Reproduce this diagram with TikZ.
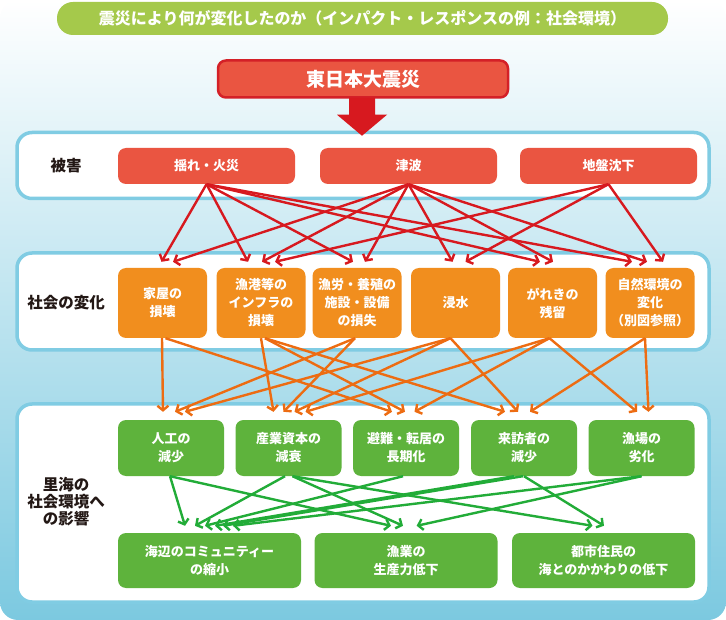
\documentclass[tikz,border=0pt]{standalone}
\usepackage{fontspec}
\setmainfont{Noto Sans CJK JP}
\usetikzlibrary{arrows.meta,calc}
\definecolor{titlegreen}{HTML}{A5C94B}
\definecolor{boxred}{HTML}{EA5541}
\definecolor{mainborder}{HTML}{D42027}
\definecolor{linered}{HTML}{D7191F}
\definecolor{boxorange}{HTML}{F18E1E}
\definecolor{lineorange}{HTML}{ED6C12}
\definecolor{boxgreen}{HTML}{5EB33C}
\definecolor{linegreen}{HTML}{22AC38}
\definecolor{panelblue}{HTML}{80CCE3}
\definecolor{bgblue}{HTML}{7CC9E0}
\definecolor{labeltext}{HTML}{231815}
\tikzset{
  box/.style={rounded corners=8pt, align=center, text=white, inner sep=0pt,
    font=\bfseries\fontsize{13}{18}\selectfont},
  redbox/.style={box, fill=boxred, minimum width=177pt, minimum height=36pt},
  orangebox/.style={box, fill=boxorange, minimum width=89pt, minimum height=70pt},
  greenbox/.style={box, fill=boxgreen, minimum width=106pt, minimum height=56pt},
  greenwide/.style={box, fill=boxgreen, minimum width=183pt, minimum height=55pt},
  panel/.style={draw=panelblue, line width=3.5pt, fill=white, rounded corners=15pt,
    minimum width=692pt, inner sep=0pt},
  paneltext/.style={text=labeltext, align=center, font=\bfseries\fontsize{15.5}{17}\selectfont},
  redarr/.style={draw=linered, line width=2.4pt, -{Straight Barb[length=4.5pt,width=11pt]}},
  orangearr/.style={draw=lineorange, line width=2.4pt, -{Straight Barb[length=4.5pt,width=11pt]}},
  greenarr/.style={draw=linegreen, line width=2.4pt, -{Straight Barb[length=4.5pt,width=11pt]}},
}
\begin{document}
\begin{tikzpicture}[x=1pt,y=-1pt]
\useasboundingbox (0,0) rectangle (726,620);
% background
\shade[top color=white, bottom color=bgblue, rounded corners=18pt] (0,0) rectangle (726,620);

% title pill
\node[fill=titlegreen, rounded corners=16pt, minimum width=611pt, minimum height=33pt,
  inner sep=0pt, text=white, font=\bfseries\fontsize{16}{18}\selectfont] (title) at (362.5,18.5)
  {震災により何が変化したのか（インパクト・レスポンスの例：社会環境）};

% main box
\node[fill=boxred, draw=mainborder, line width=2.5pt, rounded corners=8pt,
  minimum width=290pt, minimum height=37pt, inner sep=0pt, text=white,
  font=\bfseries\fontsize{19}{21}\selectfont] (main) at (363,79) {東日本大震災};

% panels
\node[panel, minimum height=66pt] (p1) at (363,165.5) {};
\node[panel, minimum height=97pt] (p2) at (363,301.5) {};
\node[panel, minimum height=198pt] (p3) at (363,503) {};

% block arrow
\coordinate (ba) at ($(main.south)+(-1,0)$);
\fill[linered] ($(ba)+(-13,-1)$) -- ($(ba)+(13,-1)$) -- ($(ba)+(13,16)$) -- ($(ba)+(25,16)$)
  -- ($(ba)+(0,37)$) -- ($(ba)+(-25,16)$) -- ($(ba)+(-13,16)$) -- cycle;

% panel labels
\node[paneltext] (l1) at (66,166) {被害};
\node[paneltext] (l2) at (66,303) {社会の変化};
\node[paneltext] (l3) at (66,502) {里海の\\社会環境へ\\の影響};

% damage boxes
\node[redbox] (d1) at (206.5,166) {揺れ・火災};
\node[redbox] (d2) at (408.5,166) {津波};
\node[redbox] (d3) at (608.5,166) {地盤沈下};

% social change boxes
\node[orangebox] (o1) at (162.5,303) {家屋の\\損壊};
\node[orangebox] (o2) at (261,303) {漁港等の\\インフラの\\損壊};
\node[orangebox] (o3) at (357,303) {漁労・養殖の\\施設・設備\\の損失};
\node[orangebox] (o4) at (455.5,303) {浸水};
\node[orangebox] (o5) at (552.5,303) {がれきの\\残留};
\node[orangebox] (o6) at (650,303) {自然環境の\\変化\\（別図参照）};

% impact boxes
\node[greenbox] (gA) at (171,448) {人工の\\減少};
\node[greenbox] (gB) at (288.5,448) {産業資本の\\減衰};
\node[greenbox] (gC) at (406,448) {避難・転居の\\長期化};
\node[greenbox] (gD) at (524,448) {来訪者の\\減少};
\node[greenbox] (gE) at (641.5,448) {漁場の\\劣化};

\node[greenwide] (b1) at (209.5,560.5) {海辺のコミュニティー\\の縮小};
\node[greenwide] (b2) at (406,560.5) {漁業の\\生産力低下};
\node[greenwide] (b3) at (603.5,560.5) {都市住民の\\海とのかかわりの低下};

% red arrows
\draw[redarr] (d1.south) -- ($(o1.north)+(-1,-6)$);
\draw[redarr] (d2.south) -- ($(o1.north)+(10.5,-6)$);
\draw[redarr] (d1.south) -- ($(o2.north)+(-13,-6)$);
\draw[redarr] (d2.south) -- ($(o2.north)+(1,-6)$);
\draw[redarr] (d3.south) -- ($(o2.north)+(14,-6)$);
\draw[redarr] (d1.south) -- ($(o3.north)+(-4,-6)$);
\draw[redarr] (d2.south) -- ($(o3.north)+(8,-6)$);
\draw[redarr] (d2.south) -- ($(o4.north)+(-3,-6)$);
\draw[redarr] (d3.south) -- ($(o4.north)+(10,-6)$);
\draw[redarr] (d1.south) -- ($(o5.north)+(-12.5,-6)$);
\draw[redarr] (d2.south) -- ($(o5.north)+(0.5,-6)$);
\draw[redarr] (d1.south) -- ($(o6.north)+(-18,-6)$);
\draw[redarr] (d2.south) -- ($(o6.north)+(-3,-6)$);
\draw[redarr] (d3.south) -- ($(o6.north)+(13,-6)$);

% orange arrows
\draw[orangearr] ($(o1.south)+(-0.5,0)$) -- ($(gA.north)+(-8,-8)$);
\draw[orangearr] ($(o1.south)+(3,0)$) -- ($(gC.north)+(-14,-8)$);
\draw[orangearr] ($(o2.south)+(0,0)$) -- ($(gB.north)+(-15,-8)$);
\draw[orangearr] ($(o2.south)+(4,0)$) -- ($(gC.north)+(-1,-8)$);
\draw[orangearr] ($(o2.south)+(4,0)$) -- ($(gD.north)+(-19,-8)$);
\draw[orangearr] ($(o3.south)+(-2,0)$) -- ($(gA.north)+(4,-8)$);
\draw[orangearr] ($(o3.south)+(-2,0)$) -- ($(gB.north)+(-5,-8)$);
\draw[orangearr] ($(o4.south)+(-5,0)$) -- ($(gA.north)+(14,-8)$);
\draw[orangearr] ($(o4.south)+(-5,0)$) -- ($(gB.north)+(6,-8)$);
\draw[orangearr] ($(o4.south)+(-5,0)$) -- ($(gD.north)+(-6,-8)$);
\draw[orangearr] ($(o5.south)+(-3,0)$) -- ($(gB.north)+(17,-8)$);
\draw[orangearr] ($(o5.south)+(-3,0)$) -- ($(gC.north)+(8.5,-8)$);
\draw[orangearr] ($(o5.south)+(-3,0)$) -- ($(gE.north)+(-4.5,-8)$);
\draw[orangearr] ($(o6.south)+(-5,0)$) -- ($(gD.north)+(6,-8)$);
\draw[orangearr] ($(o6.south)+(-5,0)$) -- ($(gE.north)+(7,-8)$);

% green arrows
\draw[greenarr] ($(gA.south)+(-1,0)$) -- ($(b1.north)+(-24.5,-7)$);
\draw[greenarr] ($(gA.south)+(-1,0)$) -- ($(b2.north)+(-15,-7)$);
\draw[greenarr] ($(gB.south)+(-3.5,0)$) -- ($(b1.north)+(-14.5,-7)$);
\draw[greenarr] ($(gB.south)+(4,0)$) -- ($(b2.north)+(-3,-7)$);
\draw[greenarr] ($(gB.south)+(4,0)$) -- ($(b3.north)+(-11,-7)$);
\draw[greenarr] ($(gC.south)+(-3,0)$) -- ($(b1.north)+(-4.5,-7)$);
\draw[greenarr] ($(gD.south)+(-10,0)$) -- ($(b1.north)+(5.5,-7)$);
\draw[greenarr] ($(gD.south)+(0,0)$) -- ($(b3.north)+(0.5,-7)$);
\draw[greenarr] ($(gD.south)+(-1,0)$) -- ($(b1.north)+(13.5,-7)$);
\draw[greenarr] ($(gE.south)+(0,0)$) -- ($(b1.north)+(23.5,-7)$);
\draw[greenarr] ($(gE.south)+(0,0)$) -- ($(b2.north)+(10.7,-7)$);
\end{tikzpicture}
\end{document}
